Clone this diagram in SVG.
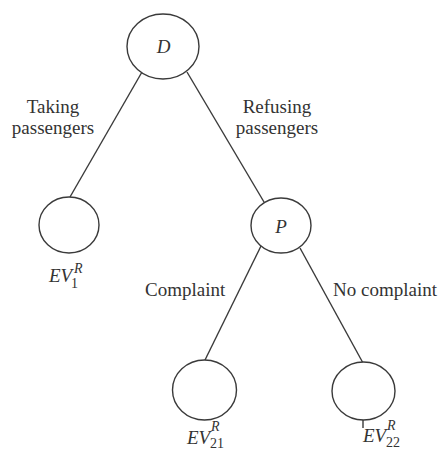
<svg xmlns="http://www.w3.org/2000/svg" width="442" height="450" viewBox="0 0 442 450">
<style>
.node{fill:#fff;stroke:#3a3a3a;stroke-width:1.4}
.edge{stroke:#3a3a3a;stroke-width:1.4;fill:none}
.lbl{font-family:"Liberation Serif",serif;font-size:19px;fill:#333}
.it{font-style:italic}
.sm{font-size:14px}
</style>
<rect width="442" height="450" fill="#fff"/>
<g id="connectors">
<line class="edge" x1="142" y1="72" x2="70" y2="197"/>
<line class="edge" x1="187" y1="72" x2="264" y2="202"/>
<line class="edge" x1="261" y1="246" x2="205" y2="360"/>
<line class="edge" x1="300" y1="248" x2="363" y2="363"/>
<line class="edge" x1="363" y1="420" x2="363" y2="428"/>
</g>
<g id="node-D">
<ellipse class="node" cx="163" cy="46.5" rx="36" ry="32.5"/>
<text class="lbl it" x="163.5" y="53" text-anchor="middle">D</text>
</g>
<g id="node-EV1">
<ellipse class="node" cx="69" cy="225" rx="30" ry="28"/>
<text class="lbl it" x="49" y="282">EV</text>
<text class="lbl sm" x="71" y="288">1</text>
<text class="lbl sm it" x="74" y="273">R</text>
</g>
<g id="node-P">
<ellipse class="node" cx="281" cy="225.5" rx="30" ry="27.5"/>
<text class="lbl it" x="281" y="233" text-anchor="middle">P</text>
</g>
<g id="node-EV21">
<ellipse class="node" cx="204.5" cy="390" rx="32" ry="30"/>
<text class="lbl it" x="187" y="444">EV</text>
<text class="lbl sm it" x="211" y="431">R</text>
<text class="lbl sm" x="210" y="448">21</text>
</g>
<g id="node-EV22">
<ellipse class="node" cx="363.5" cy="391" rx="31.5" ry="29"/>
<text class="lbl it" x="363" y="442">EV</text>
<text class="lbl sm it" x="387" y="430">R</text>
<text class="lbl sm" x="386" y="447">22</text>
</g>
<g id="edge-labels">
<text class="lbl" x="53" y="113" text-anchor="middle">Taking</text>
<text class="lbl" x="53" y="134" text-anchor="middle">passengers</text>
<text class="lbl" x="277" y="113" text-anchor="middle">Refusing</text>
<text class="lbl" x="277" y="134" text-anchor="middle">passengers</text>
<text class="lbl" x="145" y="296">Complaint</text>
<text class="lbl" x="333" y="296">No complaint</text>
</g>
</svg>
